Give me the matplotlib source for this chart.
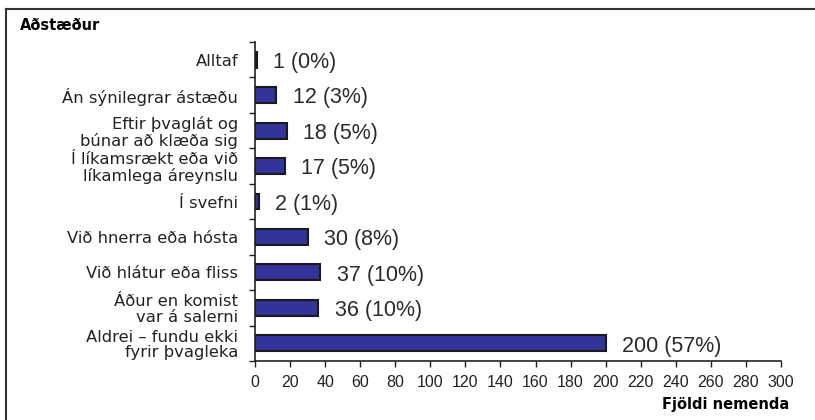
import numpy as np
import matplotlib.pyplot as plt
from matplotlib.lines import Line2D

plt.rcParams['font.family'] = ['DejaVu Sans']

categories = ['Alltaf', 'Án sýnilegrar ástæðu', 'Eftir þvaglát og\nbúnar að klæða sig',
              'Í líkamsrækt eða við\nlíkamlega áreynslu', 'Í svefni', 'Við hnerra eða hósta',
              'Við hlátur eða fliss', 'Áður en komist\nvar á salerni',
              'Aldrei – fundu ekki\nfyrir þvagleka']
counts = [1, 12, 18, 17, 2, 30, 37, 36, 200]
percents = [0, 3, 5, 5, 1, 8, 10, 10, 57]
xticks = np.arange(0, 301, 20)

fig = plt.figure(figsize=(8.15, 4.2), dpi=100)
ax = fig.add_axes([255/815, 1 - 361/420, 526/815, 319/420])

y = np.arange(len(categories))
ax.barh(y, counts, height=0.45, color='#333399', edgecolor='#1a1a1a', linewidth=1.5)
for yi, c, p in zip(y, counts, percents):
    ax.annotate(f'{c} ({p}%)', (c, yi), xytext=(12, -2), textcoords='offset points',
                va='center', ha='left', fontsize=15.5, color='#2a2a2a',
                family=['Liberation Sans', 'DejaVu Sans'])

ax.set_ylim(len(categories) - 0.5, -0.5)
ax.set_xlim(0, 300)
ax.set_xticks(xticks)
ax.set_xticklabels([str(t) for t in xticks], family=['Liberation Sans', 'DejaVu Sans'], fontsize=11.5)
ax.tick_params(axis='x', direction='out', length=4, width=1, pad=6, colors='#222222')
ax.set_yticks(y)
ax.set_yticklabels(categories, fontsize=11.8, color='#222222', linespacing=1.05)
ax.tick_params(axis='y', which='major', length=0, pad=12)
ax.set_yticks(np.arange(-0.5, len(categories)), minor=True)
ax.tick_params(axis='y', which='minor', direction='out', length=4, width=1, colors='#222222')
for s in ['top', 'right']:
    ax.spines[s].set_visible(False)
for s in ['left', 'bottom']:
    ax.spines[s].set_linewidth(1.2)
    ax.spines[s].set_color('#222222')

fig.text(20/815, 1 - 25/420, 'Aðstæður', fontsize=10.5, fontweight='bold', va='center', ha='left')
fig.text(789/815, 1 - 404/420, 'Fjöldi nemenda', fontsize=10.5, fontweight='bold', va='center', ha='right')

fig.add_artist(Line2D([6/815, 1], [1 - 9/420, 1 - 9/420], transform=fig.transFigure, color='#333333', lw=1.5))
fig.add_artist(Line2D([6/815, 6/815], [0, 1 - 9/420], transform=fig.transFigure, color='#333333', lw=1.5))

fig.savefig('out.png', dpi=100)
